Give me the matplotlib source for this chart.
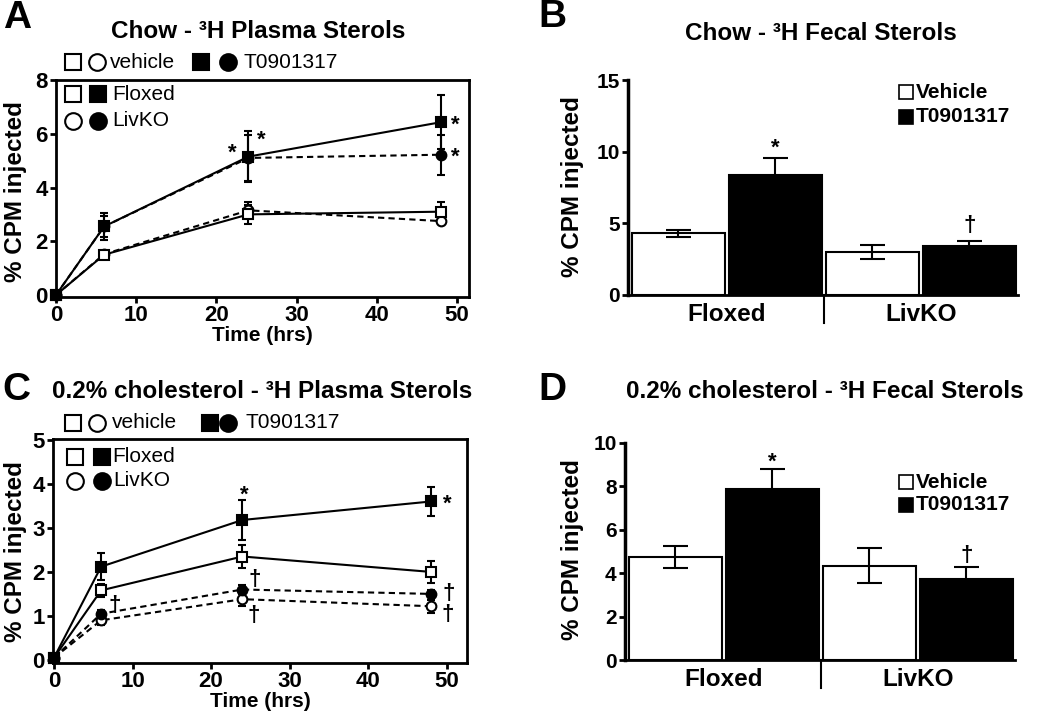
import numpy as np
import matplotlib.pyplot as plt
from matplotlib import transforms

plt.rcParams['font.family'] = ['Liberation Sans', 'DejaVu Sans']
plt.rcParams['font.weight'] = 'bold'
plt.rcParams['axes.linewidth'] = 2

W, H = 1050, 716

# === data: plasma sterols (time course) ===
time = [0, 6, 24, 48]

chow_flox_veh = [0, 1.5, 3.0, 3.1]
chow_flox_veh_err = [0, 0.1, 0.35, 0.35]
chow_flox_t09 = [0, 2.55, 5.15, 6.43]
chow_flox_t09_err = [0, 0.5, 0.95, 1.0]
chow_ko_veh = [0, 1.52, 3.15, 2.75]
chow_ko_veh_err = [0, 0.1, 0.3, 0.1]
chow_ko_t09 = [0, 2.55, 5.1, 5.22]
chow_ko_t09_err = [0, 0.4, 0.85, 0.75]

chol_flox_veh = [0.05, 1.58, 2.35, 2.0]
chol_flox_veh_err = [0, 0.15, 0.25, 0.25]
chol_flox_t09 = [0.05, 2.12, 3.18, 3.6]
chol_flox_t09_err = [0, 0.3, 0.45, 0.33]
chol_ko_veh = [0.05, 0.9, 1.38, 1.22]
chol_ko_veh_err = [0, 0.1, 0.15, 0.15]
chol_ko_t09 = [0.05, 1.05, 1.6, 1.5]
chol_ko_t09_err = [0, 0.08, 0.1, 0.08]

# === data: fecal sterols (bars) ===
groups = ['Floxed', 'LivKO']
bar_labels = ['Floxed vehicle', 'Floxed T0901317', 'LivKO vehicle', 'LivKO T0901317']
bar_colors = ['white', 'black', 'white', 'black']
chow_fecal = [4.3, 8.35, 3.0, 3.45]
chow_fecal_err = [0.22, 1.2, 0.5, 0.3]
chol_fecal = [4.75, 7.9, 4.35, 3.75]
chol_fecal_err = [0.5, 0.9, 0.82, 0.55]


def rect(l, t, r, b):
    return [l / W, 1 - b / H, (r - l) / W, (b - t) / H]


def fx(px):
    return px / W


def fy(py):
    return 1 - py / H


fig = plt.figure(figsize=(W / 100, H / 100), dpi=100)


def line_panel(box, xlim, ylim, yticks, series, title, tx, ty, letter, lx, ly, ylab_xy, leg, notes):
    ax = fig.add_axes(rect(*box))
    for y, e, mk, face, ls in series:
        ax.errorbar(time, y, yerr=e, color='black', marker=mk, mfc=face, mec='black',
                    ms=7, mew=1.5, lw=1.5, ls=ls, dashes=(3, 2) if ls == '--' else (None, None),
                    capsize=3, capthick=1.5, elinewidth=1.5, clip_on=False, zorder=3)
    ax.set_xlim(*xlim)
    ax.set_ylim(*ylim)
    ax.set_xticks([0, 10, 20, 30, 40, 50])
    ax.set_yticks(yticks)
    ax.tick_params(direction='out', length=4, width=2, labelsize=16, pad=2)
    ax.set_xlabel('Time (hrs)', fontsize=15, fontweight='bold', labelpad=0)
    fig.text(fx(ylab_xy[0]), fy(ylab_xy[1]), '% CPM injected', rotation=90, fontsize=17.5,
             fontweight='bold', ha='center', va='center')
    fig.text(fx(tx), fy(ty), title, fontsize=17.5, fontweight='bold', ha='center', va='center')
    fig.text(fx(lx), fy(ly), letter, fontsize=28, fontweight='bold', ha='center', va='center')
    # legend made of markers and text
    for mx, my, mk, face in leg['markers']:
        ax.plot([fx(mx)], [fy(my)], marker=mk, ms=12, mfc=face, mec='black', mew=1.5,
                transform=fig.transFigure, clip_on=False)
    for tx_, ty_, s in leg['texts']:
        fig.text(fx(tx_), fy(ty_), s, fontsize=15, fontweight='normal', ha='left', va='center')
    for s, xy, off in notes:
        ax.annotate(s, xy, xytext=off, textcoords='offset points', ha='center', va='center',
                    fontsize=16, fontweight='bold')
    return ax


# === panel A ===
line_panel((56, 80, 469, 297), (0, 51.5), (-0.074, 8), [0, 2, 4, 6, 8],
           [(chow_ko_veh, chow_ko_veh_err, 'o', 'white', '--'),
            (chow_flox_veh, chow_flox_veh_err, 's', 'white', '-'),
            (chow_ko_t09, chow_ko_t09_err, 'o', 'black', '--'),
            (chow_flox_t09, chow_flox_t09_err, 's', 'black', '-')],
           'Chow - ³H Plasma Sterols', 258, 32, 'A', 17, 18, (16, 192),
           {'markers': [(73, 62, 's', 'white'), (97, 62, 'o', 'white'),
                        (201, 62, 's', 'black'), (228, 62, 'o', 'black'),
                        (73, 94, 's', 'white'), (98, 94, 's', 'black'),
                        (73, 121, 'o', 'white'), (98, 121, 'o', 'black')],
            'texts': [(110, 62, 'vehicle'), (244, 62, 'T0901317'),
                      (112, 94, 'Floxed'), (112, 121, 'LivKO')]},
           [('*', (24, 5.13), (-12, 3)), ('*', (24, 5.13), (9, 12)),
            ('*', (48, 6.43), (10, -2)), ('*', (48, 5.22), (10, -2))])

# === panel C ===
line_panel((53, 439, 467, 663), (-0.13, 52.6), (-0.07, 5.02), [0, 1, 2, 3, 4, 5],
           [(chol_ko_veh, chol_ko_veh_err, 'o', 'white', '--'),
            (chol_ko_t09, chol_ko_t09_err, 'o', 'black', '--'),
            (chol_flox_veh, chol_flox_veh_err, 's', 'white', '-'),
            (chol_flox_t09, chol_flox_t09_err, 's', 'black', '-')],
           '0.2% cholesterol - ³H Plasma Sterols', 262, 392, 'C', 16, 390, (16, 552),
           {'markers': [(73, 423, 's', 'white'), (97, 423, 'o', 'white'),
                        (210, 423, 's', 'black'), (228, 423, 'o', 'black'),
                        (75, 457, 's', 'white'), (102, 457, 's', 'black'),
                        (75, 481, 'o', 'white'), (102, 481, 'o', 'black')],
            'texts': [(112, 423, 'vehicle'), (245, 423, 'T0901317'),
                      (112, 457, 'Floxed'), (113, 481, 'LivKO')]},
           [('*', (24, 3.18), (1, 18)), ('*', (48, 3.6), (12, -2)),
            ('†', (6, 1.05), (10, 6)), ('†', (24, 1.6), (9, 7)),
            ('†', (24, 1.38), (8, -12)), ('†', (48, 1.5), (13, 0)),
            ('†', (48, 1.22), (12, -6))])


def bar_panel(box, vals, errs, ylim, yticks, title, tx, ty, letter, lx, ly, ylab_xy, leg_y, notes):
    ax = fig.add_axes(rect(*box))
    pos = np.arange(len(vals))
    ax.bar(pos, vals, width=0.96, color=bar_colors, edgecolor='black', linewidth=1.5, zorder=2)
    ax.errorbar(pos, vals, yerr=errs, fmt='none', ecolor='black', elinewidth=1.5,
                capsize=9, capthick=1.5, zorder=3)
    ax.set_xlim(-0.52, 3.5)
    ax.set_ylim(*ylim)
    ax.set_yticks(yticks)
    ax.set_xticks([0.5, 2.5])
    ax.set_xticklabels(groups, fontsize=17.5, fontweight='bold')
    ax.tick_params(axis='x', length=0, pad=6)
    ax.tick_params(axis='y', direction='out', length=4, width=2, labelsize=15, pad=2)
    ax.spines['top'].set_visible(False)
    ax.spines['right'].set_visible(False)
    ax.spines['left'].set_linewidth(2.5)
    trans = transforms.blended_transform_factory(ax.transData, ax.transAxes)
    ax.plot([1.5, 1.5], [0, -0.13], color='black', lw=1.5, transform=trans, clip_on=False)
    fig.text(fx(ylab_xy[0]), fy(ylab_xy[1]), '% CPM injected', rotation=90, fontsize=17.5,
             fontweight='bold', ha='center', va='center')
    fig.text(fx(tx), fy(ty), title, fontsize=17.5, fontweight='bold', ha='center', va='center')
    fig.text(fx(lx), fy(ly), letter, fontsize=28, fontweight='bold', ha='center', va='center')
    for (yy, face, s) in zip(leg_y, ['white', 'black'], ['Vehicle', 'T0901317']):
        ax.plot([fx(906)], [fy(yy)], marker='s', ms=9.5, mfc=face, mec='black', mew=1.2,
                transform=fig.transFigure, clip_on=False)
        fig.text(fx(916), fy(yy), s, fontsize=15, fontweight='bold', ha='left', va='center')
    for s, i, off in notes:
        ax.annotate(s, (i, vals[i] + errs[i]), xytext=(0, off), textcoords='offset points',
                    ha='center', va='center', fontsize=16, fontweight='bold')
    return ax


# === panel B ===
bar_panel((628, 80, 1018, 295), chow_fecal, chow_fecal_err, (0, 15), [0, 5, 10, 15],
          'Chow - ³H Fecal Sterols', 821, 33, 'B', 552, 17, (572, 187), [92, 117],
          [('*', 1, 7), ('†', 3, 11)])

# === panel D ===
bar_panel((625, 443, 1015, 660), chol_fecal, chol_fecal_err, (0, 10), [0, 2, 4, 6, 8, 10],
          '0.2% cholesterol - ³H Fecal Sterols', 825, 392, 'D', 552, 390, (572, 550), [482, 505],
          [('*', 1, 5), ('†', 3, 8)])

fig.savefig('out.png', dpi=100)
